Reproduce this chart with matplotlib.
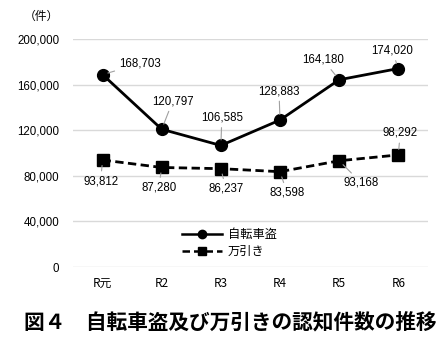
import matplotlib
matplotlib.use("Agg")
import matplotlib.pyplot as plt
from matplotlib.lines import Line2D

plt.rcParams['font.family'] = ['Noto Sans CJK JP', 'DejaVu Sans']

categories = ["R元", "R2", "R3", "R4", "R5", "R6"]
bicycle = [168703, 120797, 106585, 128883, 164180, 174020]
shoplift = [93812, 87280, 86237, 83598, 93168, 98292]
series_names = ["自転車盗", "万引き"]
yticks = [0, 40000, 80000, 120000, 160000, 200000]
title = "図４　自転車盗及び万引きの認知件数の推移"

# label offsets in pixels (dx, dy) relative to markers
bike_off = [(37, 11), (11, 28), (1, 28), (-1, 29), (-16, 20), (-6, 18)]
shop_off = [(-2, -21), (-3, -20), (5, -20), (7, -21), (22, -22), (2, 22)]

fig = plt.figure(figsize=(4.48, 3.57), dpi=100)
ax = fig.add_axes([0.163, 0.252, 0.792, 0.639])

x = list(range(len(categories)))
ax.plot(x, bicycle, color='black', lw=2, marker='o', markersize=8.5)
ax.plot(x, shoplift, color='black', lw=2, ls=(0, (3, 1.6)), marker='s', markersize=8)

ax.set_xlim(-0.5, len(categories) - 0.5)
ax.set_ylim(0, 200000)
ax.set_yticks(yticks)
ax.set_yticklabels([f"{v:,}" for v in yticks], fontsize=8.3, family=['Liberation Sans', 'DejaVu Sans'])
ax.set_xticks(x)
ax.set_xticklabels(categories, fontsize=8.5)
ax.tick_params(length=0)
ax.tick_params(axis='y', pad=10)
ax.tick_params(axis='x', pad=7)
ax.grid(axis='y', color='#d9d9d9', lw=1)
ax.set_axisbelow(True)
for s in ax.spines.values():
    s.set_visible(False)

for xi, v, (dx, dy) in zip(x, bicycle, bike_off):
    ax.annotate(f"{v:,}", (xi, v), xytext=(dx, dy), textcoords='offset pixels',
                ha='center', va='center', fontsize=8.3, family=['Liberation Sans', 'DejaVu Sans'],
                arrowprops=dict(arrowstyle='-', color='#a0a0a0', lw=0.8, shrinkA=1, shrinkB=4))
for xi, v, (dx, dy) in zip(x, shoplift, shop_off):
    ax.annotate(f"{v:,}", (xi, v), xytext=(dx, dy), textcoords='offset pixels',
                ha='center', va='center', fontsize=8.3, family=['Liberation Sans', 'DejaVu Sans'],
                arrowprops=dict(arrowstyle='-', color='#a0a0a0', lw=0.8, shrinkA=1, shrinkB=4))

handles = [
    Line2D([], [], color='black', lw=1.8, marker='o', markersize=6),
    Line2D([], [], color='black', lw=1.8, ls=(0, (3, 1.6)), marker='s', markersize=6),
]
ax.legend(handles, series_names, loc='center left', bbox_to_anchor=(0.275, 0.105), frameon=False,
          fontsize=8.8, handlelength=3.3, labelspacing=0.3, handletextpad=0.5)

fig.text(24/448, 1 - 16/357, "（件）", fontsize=8.5, ha='left', va='center')
fig.text(24/448, 1 - 323/357, title, fontsize=14.9, fontweight='bold', ha='left', va='center')

fig.savefig("out.png", dpi=100)
